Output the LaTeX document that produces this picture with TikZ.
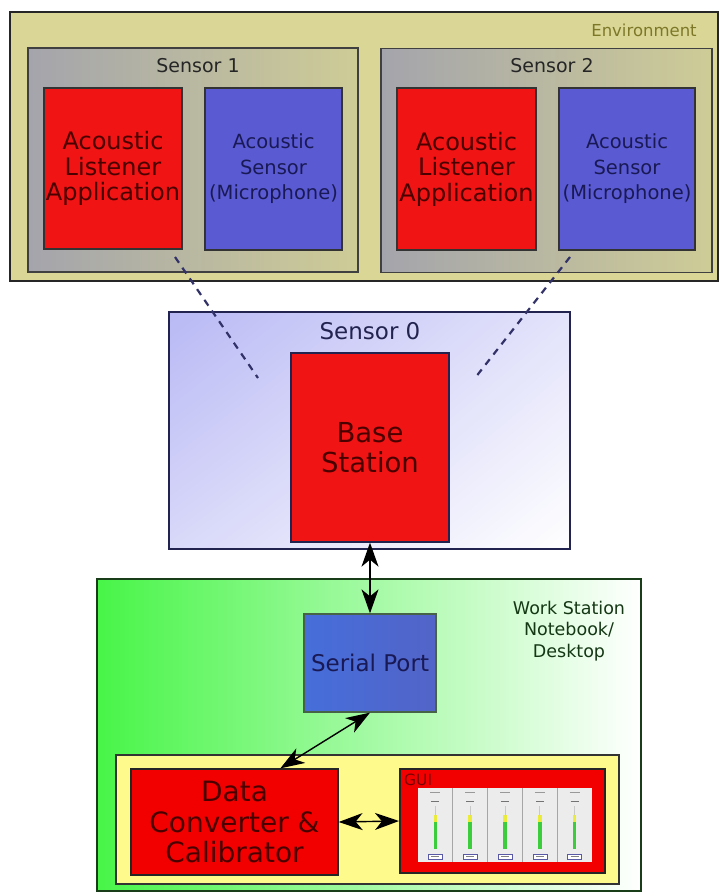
\documentclass[tikz,border=0pt]{standalone}
\usepackage{fontspec}
\setmainfont{DejaVu Sans}
\usetikzlibrary{arrows.meta,calc,shadings}

\definecolor{envfill}{RGB}{217,214,150}
\definecolor{envtext}{RGB}{125,120,40}
\definecolor{sensgrayL}{RGB}{164,164,172}
\definecolor{sensgrayR}{RGB}{206,204,150}
\definecolor{appred}{RGB}{240,20,20}
\definecolor{apptext}{RGB}{75,0,0}
\definecolor{micblue}{RGB}{90,90,210}
\definecolor{mictext}{RGB}{25,25,85}
\definecolor{lavender}{RGB}{185,185,245}
\definecolor{navyline}{RGB}{35,35,80}
\definecolor{wsgreen}{RGB}{72,245,72}
\definecolor{wsline}{RGB}{25,60,25}
\definecolor{wstext}{RGB}{20,55,20}
\definecolor{padyellow}{RGB}{255,250,140}
\definecolor{portblueL}{RGB}{70,110,218}
\definecolor{portblueR}{RGB}{82,100,200}
\definecolor{boxred}{RGB}{242,0,0}
\definecolor{guitext}{RGB}{120,0,0}
\definecolor{screengray}{RGB}{236,236,236}
\definecolor{barwell}{RGB}{200,200,200}
\definecolor{lvlgreen}{RGB}{60,205,60}
\definecolor{lvlyellow}{RGB}{235,235,60}
\definecolor{dashline}{RGB}{50,50,105}

\tikzset{
  box/.style={draw, line width=1.3pt, rectangle, inner sep=0pt, align=center},
  appbox/.style={box, draw=black!80, fill=appred, text=apptext,
    font=\fontsize{24}{25.5}\selectfont},
  micbox/.style={box, draw=black!80, fill=micblue, text=mictext,
    font=\fontsize{19.5}{25.5}\selectfont},
  sensbox/.style={box, draw=black!75, left color=sensgrayL, right color=sensgrayR},
  title/.style={inner sep=0pt, font=\fontsize{19}{22}\selectfont, text=black!85},
  link/.style={dashline, line width=2.2pt, dash pattern=on 7pt off 6pt},
  biarrow/.style={{Stealth[length=24pt,width=17pt,inset=7pt]}-{Stealth[length=24pt,width=17pt,inset=7pt]},
    line width=1.4pt, black},
}

\begin{document}
\begin{tikzpicture}[x=1pt, y=-1pt]
\useasboundingbox (0,0) rectangle (720,893);

% ---------- environment with the two remote sensors ----------
\node[box, draw=black!85, fill=envfill, minimum width=708pt, minimum height=269pt]
  (env) at (364,146.5) {};
\node[inner sep=0pt, text=envtext, font=\fontsize{16.5}{20}\selectfont]
  (envlabel) at (644,30) {Environment};

\node[sensbox, minimum width=330pt, minimum height=224pt] (s1) at (193,160) {};
\node[title] (s1title) at (198,66) {Sensor 1};
\node[appbox, minimum width=138pt, minimum height=161pt] (app1) at (113,168.5)
  {Acoustic\\Listener\\Application};
\node[micbox, minimum width=137pt, minimum height=162pt] (mic1) at (273.5,169)
  {Acoustic\\Sensor\\(Microphone)};

\node[sensbox, minimum width=331pt, minimum height=224pt] (s2) at (546.5,160.5) {};
\node[title] (s2title) at (552,66) {Sensor 2};
\node[appbox, minimum width=139pt, minimum height=162pt] (app2) at (466.5,169)
  {Acoustic\\Listener\\Application};
\node[micbox, minimum width=136pt, minimum height=162pt] (mic2) at (627,169)
  {Acoustic\\Sensor\\(Microphone)};

% ---------- base station node ----------
\node[box, draw=navyline, minimum width=401pt, minimum height=237pt,
  upper left=lavender, upper right=lavender!40!white,
  lower left=lavender!55!white, lower right=white] (s0) at (369.5,430.5) {};
\node[inner sep=0pt, text=navyline, font=\fontsize{23}{26}\selectfont]
  (s0title) at (370,331) {Sensor 0};
\node[box, draw=navyline, fill=appred, text=apptext,
  minimum width=158pt, minimum height=189pt,
  font=\fontsize{27.5}{30.5}\selectfont] (base) at (370,447.5) {Base\\Station};

% radio links from the remote sensors
\coordinate (l1a) at (175,257);
\coordinate (l1b) at (258,378);
\coordinate (l2a) at (570,257);
\coordinate (l2b) at (475,378);
\draw[link] (l1a) -- (l1b);
\draw[link] (l2a) -- (l2b);

% ---------- work station ----------
\node[box, draw=wsline, left color=wsgreen, right color=white,
  minimum width=544pt, minimum height=312pt] (ws) at (369,735) {};
\node[inner sep=0pt, text=wstext, font=\fontsize{17.5}{21.5}\selectfont, align=center]
  (wslabel) at (569,631) {Work Station\\Notebook/\\Desktop};

\node[box, draw=wsline!80, left color=portblueL, right color=portblueR, text=mictext,
  minimum width=132pt, minimum height=98pt,
  font=\fontsize{23}{26}\selectfont] (port) at (370,663) {Serial Port};

\node[box, draw=black!80, fill=padyellow, minimum width=503pt, minimum height=129pt]
  (pad) at (367.5,819.5) {};
\node[box, draw=black!85, fill=boxred, text=apptext,
  minimum width=207pt, minimum height=106pt,
  font=\fontsize{28}{30.5}\selectfont] (conv) at (234.5,822)
  {Data\\Converter \&\\Calibrator};
\node[box, draw=black!85, line width=2pt, fill=boxred,
  minimum width=205pt, minimum height=104pt] (gui) at (502.5,821) {};
\node[anchor=west, inner sep=0pt, text=guitext, font=\fontsize{15.5}{16}\selectfont]
  (guilabel) at (404,780) {GUI};

% GUI screenshot: five channel strips with level meters
\fill[screengray] (418,788) rectangle (592,862);
\foreach \i in {0,...,4}{
  \pgfmathsetmacro{\px}{418+\i*34.8}
  \pgfmathsetmacro{\cx}{\px+17.4}
  \ifnum\i>0 \draw[gray!70, line width=0.8pt] (\px,788) -- (\px,862); \fi
  \draw[gray!80, line width=0.7pt] (\cx-5,792) -- (\cx+5,792);
  \draw[gray!90!black, line width=0.9pt] (\cx-4,801) -- (\cx+4,801);
  \draw[barwell, line width=0.8pt] (\cx,806) -- (\cx,815);
  \fill[lvlyellow] (\cx-1.8,815) rectangle (\cx+1.8,822);
  \fill[lvlgreen] (\cx-1.8,822) rectangle (\cx+1.8,849);
  \draw[blue!30!gray, line width=0.6pt, fill=white] (\cx-7,854) rectangle (\cx+7,859);
  \draw[gray, line width=0.5pt] (\cx-4,856.5) -- (\cx+4,856.5);
}

% ---------- data paths ----------
\draw[biarrow] (base.south) -- (port.north);
\draw[biarrow] (port.south) -- ($(conv.north west)!0.72!(conv.north east)$);
\draw[biarrow] (conv.east) -- (gui.west);
\end{tikzpicture}
\end{document}
